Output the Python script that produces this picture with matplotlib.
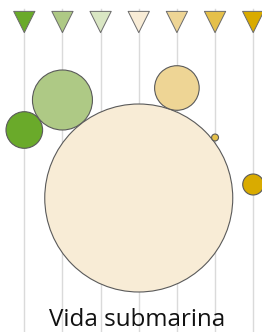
import matplotlib
matplotlib.use('Agg')
import matplotlib.pyplot as plt
from matplotlib.patches import Circle
import numpy as np

# Categories (one column each), colours from green to gold
categories = ['c1', 'c2', 'c3', 'c4', 'c5', 'c6', 'c7']
colors = ['#6aaa2a', '#aec985', '#d9e6c3', '#f8ecd6', '#eed595', '#e5c04a', '#d9ab00']

# Bubbles: column index, vertical position (px from top), value (area)
bubble_col = [0, 1, 3, 4, 5, 6]
bubble_y = [130, 100, 198, 88, 137.5, 184.5]
bubble_value = [335, 900, 8836, 497, 12, 110]

title = 'Vida submarina'

W, H = 262, 332
X0, STEP = 24.3, 38.15

fig = plt.figure(figsize=(W / 100, H / 100), dpi=100, facecolor='white')
ax = fig.add_axes([0, 0, 1, 1])
ax.set_xlim(0, W)
ax.set_ylim(H, 0)
ax.set_aspect('equal')
ax.axis('off')

xs = X0 + STEP * np.arange(len(categories))

# vertical guide lines
for x in xs:
    ax.plot([x, x], [9, H], color='#dadada', lw=1.0, zorder=1)

# header triangles
ax.scatter(xs, [22] * len(xs), marker='v', s=15.3 ** 2, c=colors,
           edgecolors='#6b6b6b', linewidths=0.7, zorder=3)

# bubbles
for col, y, v in zip(bubble_col, bubble_y, bubble_value):
    r = np.sqrt(v)
    ax.add_patch(Circle((xs[col], y), r, facecolor=colors[col],
                        edgecolor='#5a5a5a', lw=0.8, zorder=2))

ax.text(137.5, 326, title, fontsize=17.4, family='Open Sans',
        color='#111111', ha='center', va='baseline', zorder=4)

fig.savefig('out.png', dpi=100, facecolor='white')
